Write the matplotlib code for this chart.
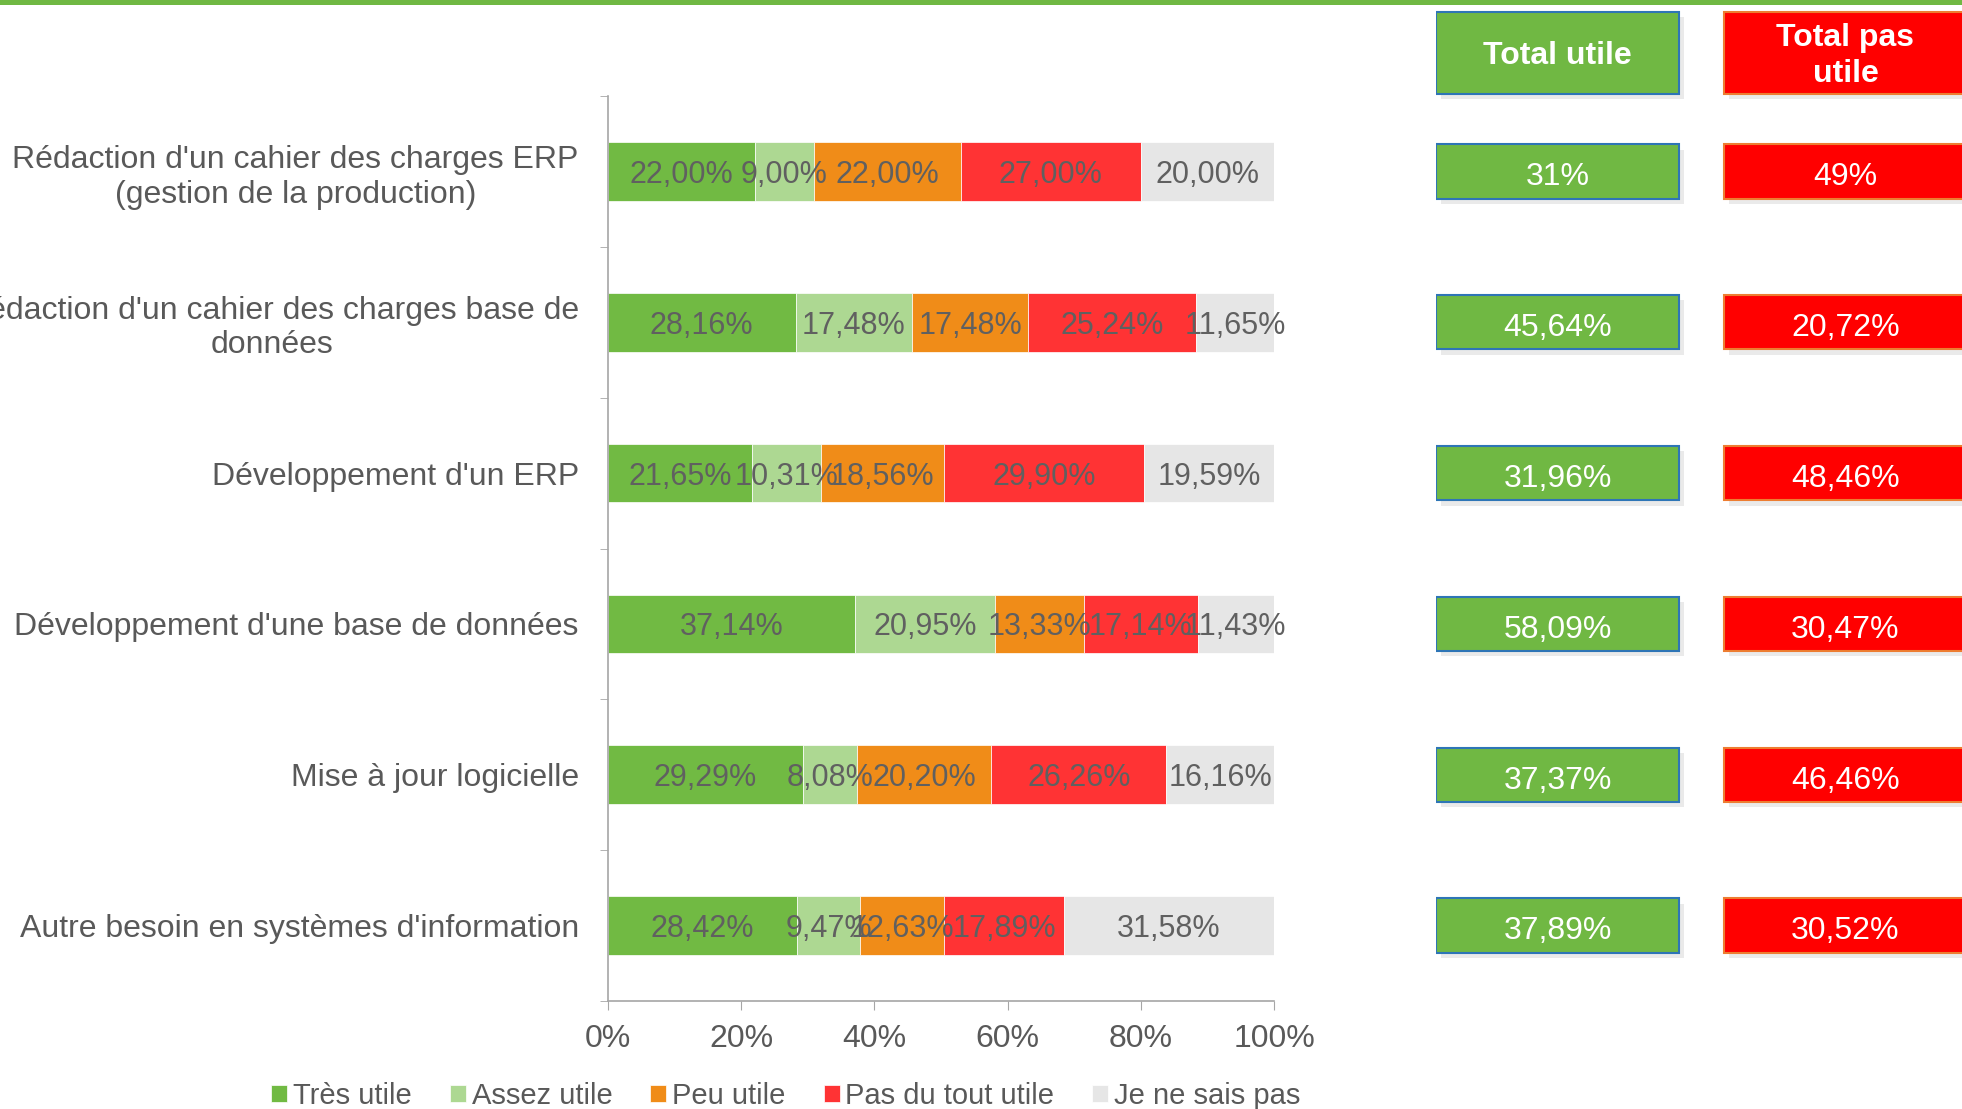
import numpy as np
import matplotlib
matplotlib.use('Agg')
import matplotlib.pyplot as plt
from matplotlib.patches import Rectangle

plt.rcParams['font.family'] = ['Liberation Sans', 'DejaVu Sans']

categories = ["Rédaction d'un cahier des charges ERP\n(gestion de la production)",
              "Rédaction d'un cahier des charges base de\ndonnées",
              "Développement d'un ERP",
              "Développement d'une base de données",
              "Mise à jour logicielle",
              "Autre besoin en systèmes d'information"]
series_names = ['Très utile', 'Assez utile', 'Peu utile', 'Pas du tout utile', 'Je ne sais pas']
tres_utile = [22.00, 28.16, 21.65, 37.14, 29.29, 28.42]
assez_utile = [9.00, 17.48, 10.31, 20.95, 8.08, 9.47]
peu_utile = [22.00, 17.48, 18.56, 13.33, 20.20, 12.63]
pas_utile = [27.00, 25.24, 29.90, 17.14, 26.26, 17.89]
ne_sais_pas = [20.00, 11.65, 19.59, 11.43, 16.16, 31.58]
total_utile = [31, 45.64, 31.96, 58.09, 37.37, 37.89]
total_pas_utile = [49, 20.72, 48.46, 30.47, 46.46, 30.52]
colors = ['#71BA43', '#ADD892', '#F08C18', '#FF3334', '#E6E6E6']
txt_col = '#595959'


def fmt(v, short=False):
    if short and float(v).is_integer():
        return '%d%%' % v
    return ('%.2f%%' % v).replace('.', ',')


W, H = 1962, 1109
fig = plt.figure(figsize=(W / 100, H / 100), dpi=100)

# green band on top
fig.add_artist(Rectangle((0, 1 - 5 / H), 1, 5 / H, transform=fig.transFigure,
                         color='#70B843', lw=0))

ax = fig.add_axes([608 / W, 1 - 1001 / H, 666 / W, 905 / H])
y = np.arange(len(categories))
data = [tres_utile, assez_utile, peu_utile, pas_utile, ne_sais_pas]
left = np.zeros(len(categories))
for vals, name, c in zip(data, series_names, colors):
    vals = np.array(vals)
    ax.barh(y, vals, left=left, height=0.39, color=c, label=name,
            edgecolor='white', linewidth=0.5)
    for yi, l, v in zip(y, left, vals):
        ax.text(l + v / 2, yi, fmt(v), ha='center', va='center_baseline',
                fontsize=22, color='#606060')
    left += vals

ax.set_xlim(0, 100)
ax.set_ylim(len(categories) - 0.5, -0.5)
ax.set_xticks(np.arange(0, 101, 20))
ax.set_xticklabels(['%d%%' % t for t in range(0, 101, 20)])
ax.set_yticks(y)
ax.set_yticklabels(categories, multialignment='center')
ax.set_yticks(np.arange(-0.5, len(categories)), minor=True)
ax.tick_params(axis='y', which='major', length=0, pad=21, labelsize=23,
               labelcolor=txt_col)
ax.tick_params(axis='y', which='minor', length=6, color='#A6A6A6')
ax.tick_params(axis='x', length=6.5, color='#A6A6A6', pad=10, labelsize=23,
               labelcolor=txt_col)
for s in ['top', 'right']:
    ax.spines[s].set_visible(False)
for s in ['left', 'bottom']:
    ax.spines[s].set_color('#A6A6A6')
    ax.spines[s].set_linewidth(1.2)

# right panel with totals
axr = fig.add_axes([1436 / W, 1 - 1001 / H, (W - 1436) / W, 1001 / H])
axr.set_xlim(0, W - 1436)
top = -0.5 - 96 / 150.8
axr.set_ylim(len(categories) - 0.5, top)
axr.axis('off')


def box(yc, h, x0, face, edge, text, bold=False):
    axr.add_patch(Rectangle((x0 + 5, yc - h / 2 + 0.035), 243, h,
                            color='#cccccc', alpha=0.4, lw=0, zorder=1))
    axr.add_patch(Rectangle((x0, yc - h / 2), 243, h, facecolor=face,
                            edgecolor=edge, lw=1.5, zorder=2))
    axr.text(x0 + 121.5, yc + (0.02 if bold else 0.015), text, ha='center',
             va='center' if bold else 'center_baseline', color='white',
             fontsize=23, fontweight='bold' if bold else 'normal', zorder=3,
             linespacing=1.3)


hy = -0.5 - (96 - 53) / 150.8
box(hy, 82 / 150.8, 0, '#70B843', '#2E75B6', 'Total utile', bold=True)
box(hy, 82 / 150.8, 288, '#FF0000', '#ED7D31', 'Total pas\nutile', bold=True)
for yi, tu, tp in zip(y, total_utile, total_pas_utile):
    box(yi, 0.36, 0, '#70B843', '#2E75B6', fmt(tu, short=True))
    box(yi, 0.36, 288, '#FF0000', '#ED7D31', fmt(tp, short=True))

handles, labels = ax.get_legend_handles_labels()
leg = fig.legend(handles, labels, loc='center', bbox_to_anchor=(786 / W, 13 / H),
                 ncol=5, frameon=False, fontsize=21, handlelength=0.55,
                 handleheight=0.55, handletextpad=0.2, columnspacing=1.3)
for t in leg.get_texts():
    t.set_color(txt_col)

fig.savefig('out.png', dpi=100)
